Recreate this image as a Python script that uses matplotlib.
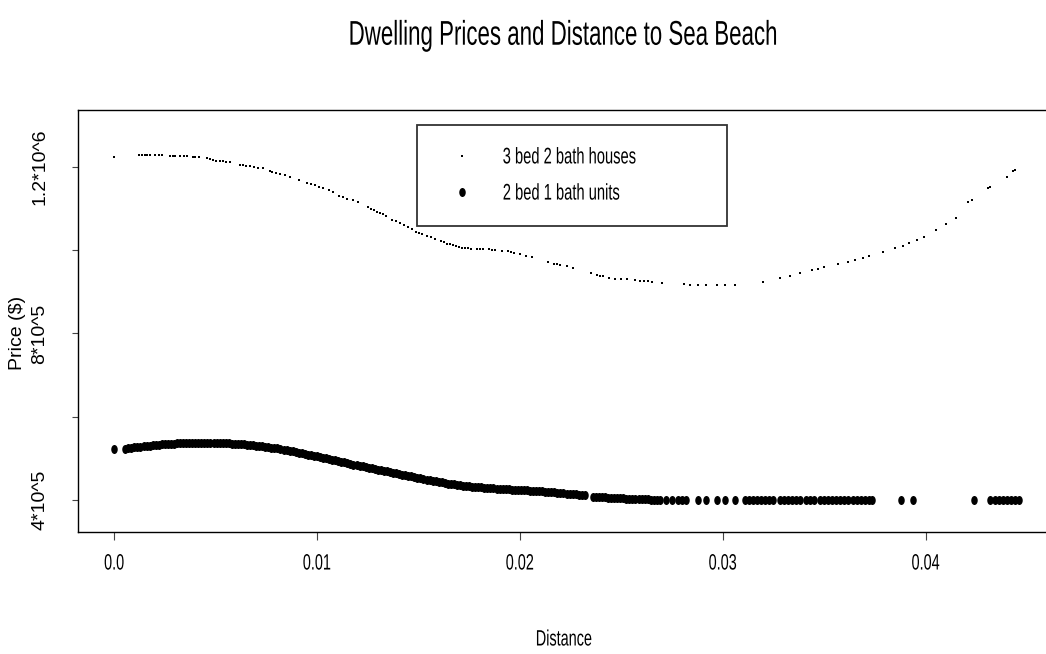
import numpy as np
import matplotlib
matplotlib.use("Agg")
import matplotlib.pyplot as plt
from matplotlib.patheffects import AbstractPathEffect
from matplotlib.transforms import Affine2D
from matplotlib.path import Path
from matplotlib.lines import Line2D
from matplotlib.patches import Rectangle

# ---------------- data ----------------
title = "Dwelling Prices and Distance to Sea Beach"
x_label = "Distance"
y_label = "Price ($)"
legend_labels = ["3 bed 2 bath houses", "2 bed 1 bath units"]
x_ticks = [0.0, 0.01, 0.02, 0.03, 0.04]
x_tick_labels = ["0.0", "0.01", "0.02", "0.03", "0.04"]
y_ticks = [4e5, 6e5, 8e5, 1e6, 1.2e6]
y_tick_labels = ["4*10^5", "", "8*10^5", "", "1.2*10^6"]

house_dist = [0.0, 0.00123, 0.00137, 0.0015, 0.00164, 0.00177, 0.0020, 0.0022, 0.00236,
              0.00276, 0.0029, 0.0030, 0.00325, 0.00345, 0.00359, 0.00389, 0.0040, 0.0042,
              0.00458, 0.00472, 0.00487, 0.0050, 0.0052, 0.00535, 0.0055, 0.00571, 0.0062,
              0.00635, 0.0065, 0.0067, 0.0069, 0.0071, 0.00733, 0.00768, 0.0078, 0.0080,
              0.0082, 0.0084, 0.00866, 0.0091, 0.0095, 0.0097, 0.0099, 0.0101, 0.0103,
              0.0106, 0.0108, 0.0111, 0.0113, 0.0115, 0.0118, 0.0120, 0.0125, 0.01265,
              0.0128, 0.01295, 0.0131, 0.01325, 0.0134, 0.0137, 0.0139, 0.0141, 0.0143,
              0.0145, 0.0147, 0.0149, 0.01505, 0.0152, 0.0154, 0.0156, 0.0158, 0.0161,
              0.01625, 0.0164, 0.01655, 0.0167, 0.01685, 0.0170, 0.01715, 0.0173, 0.01745,
              0.0176, 0.0179, 0.01805, 0.0182, 0.0185, 0.01865, 0.0188, 0.0191, 0.0194,
              0.01955, 0.0197, 0.0200, 0.0203, 0.0206, 0.0214, 0.0217, 0.02185, 0.0220,
              0.0223, 0.0226, 0.0235, 0.0238, 0.02395, 0.0241, 0.0244, 0.0247, 0.0250,
              0.0253, 0.0257, 0.0259, 0.0261, 0.0263, 0.0265, 0.0270, 0.0281, 0.0284,
              0.0288, 0.0292, 0.0297, 0.0301, 0.0306, 0.0320, 0.0328, 0.0333, 0.0338,
              0.0344, 0.0347, 0.0350, 0.0357, 0.0362, 0.0365, 0.0369, 0.0372, 0.0379,
              0.0385, 0.0389, 0.0392, 0.0396, 0.0399, 0.0405, 0.0410, 0.0415, 0.0421,
              0.0423, 0.0431, 0.0432, 0.0440, 0.0443, 0.0444]
house_price_k = [1224, 1228.8, 1228.8, 1228.8, 1228.8, 1228.8, 1228.5, 1228.5, 1228.5,
                 1227.2, 1227.2, 1227, 1227, 1226.5, 1226.5, 1224, 1223.5, 1223,
                 1222, 1220, 1216, 1215, 1214, 1213.5, 1213, 1212, 1206,
                 1205, 1203, 1201.5, 1200, 1198.5, 1197, 1190, 1188, 1186,
                 1184, 1182, 1177, 1168, 1161, 1158, 1156, 1153, 1150,
                 1144, 1140, 1130, 1127, 1124, 1120, 1116, 1104, 1100,
                 1097, 1093, 1090, 1086, 1082, 1073, 1070, 1066, 1061,
                 1056, 1050, 1045, 1041, 1038, 1034, 1031, 1027, 1022,
                 1019, 1016, 1014, 1012, 1010, 1008, 1006.5, 1005, 1004.5,
                 1004, 1003, 1003, 1003, 1002, 1001.5, 1001, 999, 997,
                 995.5, 994, 990, 986, 983, 972, 968, 966.5, 965,
                 962, 958, 945, 941, 939, 937, 934, 932, 931,
                 930, 928, 927, 926, 925, 924, 922, 918, 917,
                 916, 916, 915.5, 915.5, 916, 924, 933, 938, 945,
                 952, 956, 960, 967, 972, 976, 981, 986, 996,
                 1005, 1011, 1017, 1024, 1032, 1049, 1063, 1077, 1116,
                 1121, 1150, 1152, 1176, 1190, 1193]

unit_dist = [0.0, 0.00055, 0.0007, 0.00085, 0.0010, 0.00115, 0.0013, 0.00145, 0.0016, 0.00175,
             0.0019, 0.00205, 0.0022, 0.00235, 0.0025, 0.00265, 0.0028, 0.00295, 0.0031, 0.00325,
             0.0034, 0.00355, 0.0037, 0.00385, 0.0040, 0.00415, 0.0043, 0.00445, 0.0046, 0.00475,
             0.0049, 0.00505, 0.0052, 0.00535, 0.0055, 0.00565, 0.0058, 0.00595, 0.0061, 0.00625,
             0.0064, 0.00655, 0.0067, 0.00685, 0.0070, 0.00715, 0.0073, 0.00745, 0.0076, 0.00775,
             0.0079, 0.00805, 0.0082, 0.00835, 0.0085, 0.00865, 0.0088, 0.00895, 0.0091, 0.00925,
             0.0094, 0.00955, 0.0097, 0.00985, 0.0100, 0.01015, 0.0103, 0.01045, 0.0106, 0.01075,
             0.0109, 0.01105, 0.0112, 0.01135, 0.0115, 0.01165, 0.0118, 0.01195, 0.0121, 0.01225,
             0.0124, 0.01255, 0.0127, 0.01285, 0.0130, 0.01315, 0.0133, 0.01345, 0.0136, 0.01375,
             0.0139, 0.01405, 0.0142, 0.01435, 0.0145, 0.01465, 0.0148, 0.01495, 0.0151, 0.01525,
             0.0154, 0.01555, 0.0157, 0.01585, 0.0160, 0.01615, 0.0163, 0.01645, 0.0166, 0.01675,
             0.0169, 0.01705, 0.0172, 0.01735, 0.0175, 0.01765, 0.0178, 0.01795, 0.0181, 0.01825,
             0.0184, 0.01855, 0.0187, 0.01885, 0.0190, 0.01915, 0.0193, 0.01945, 0.0196, 0.01975,
             0.0199, 0.02005, 0.0202, 0.02035, 0.0205, 0.02065, 0.0208, 0.02095, 0.0211, 0.02125,
             0.0214, 0.02155, 0.0217, 0.02185, 0.0220, 0.02215, 0.0223, 0.02245, 0.0226, 0.02275,
             0.0229, 0.02305, 0.0232, 0.0236, 0.02375, 0.0239, 0.02405, 0.0242, 0.02435, 0.0245,
             0.02465, 0.0248, 0.02495, 0.0251, 0.02525, 0.0254, 0.02555, 0.0257, 0.02585, 0.0260,
             0.02615, 0.0263, 0.02645, 0.0266, 0.02675, 0.0269, 0.0272, 0.0275, 0.0278, 0.0280,
             0.0282, 0.0288, 0.0292, 0.0297, 0.0301, 0.0306, 0.0311, 0.0313, 0.0315, 0.0317,
             0.0319, 0.0321, 0.0323, 0.0325, 0.0328, 0.0330, 0.0332, 0.0334, 0.0336, 0.0338,
             0.0341, 0.0343, 0.0345, 0.0348, 0.0350, 0.0352, 0.0354, 0.0356, 0.0358, 0.0360,
             0.0362, 0.0364, 0.0366, 0.0368, 0.0370, 0.0372, 0.03735, 0.0388, 0.0394, 0.0424,
             0.0432, 0.0434, 0.0436, 0.0438, 0.0440, 0.0442, 0.0444, 0.0446]
unit_price_k = [522.5, 523, 524, 525, 526.5, 527, 528, 529, 529.5, 530.5,
                531, 532, 532.5, 533.5, 534, 534.5, 535, 535.5, 536, 536,
                536.5, 537, 537, 537.5, 537.5, 538, 537.5, 538, 537.5, 537.5,
                537.5, 537, 537, 536.5, 536.5, 536, 535.5, 535, 534.5, 534,
                533.5, 533, 532, 531.5, 530.5, 530, 529, 528, 527, 526,
                525, 524, 522.5, 521, 519.5, 518, 516.5, 515, 513.5, 512,
                510.5, 509, 507.5, 506.5, 505, 503.5, 502, 500.5, 499, 497,
                495.5, 493.5, 492, 490, 488.5, 487, 485, 483.5, 482, 480.5,
                479, 477.5, 476, 474.5, 473, 471.5, 470, 468.5, 467, 465.5,
                464, 462.5, 461, 459.5, 458, 456.5, 455, 453.5, 452, 450.5,
                449, 447.5, 446, 444.5, 443, 442, 441, 439.5, 438.5, 437.5,
                436.5, 435.5, 434.5, 433.5, 433, 432, 431.5, 431, 430, 429.5,
                429, 428.5, 428, 427.5, 427, 426.5, 426, 425.5, 425, 424.5,
                424, 424, 423.5, 423, 422.5, 422, 421.5, 421, 420.5, 420,
                419, 418.5, 418, 417.5, 417, 416, 415.5, 415, 414.5, 414,
                413, 412.5, 412, 408, 407.5, 407, 406.5, 406, 405.5, 405,
                404.5, 404, 404, 403.5, 403, 403, 402.5, 402.5, 402, 402,
                401.5, 401.5, 401, 401, 401, 400.5, 400.5, 400, 400, 400,
                400, 400, 400, 400, 400, 400, 400, 400, 400, 400,
                400, 400, 400, 400, 400, 400, 400, 400, 400, 400,
                400, 400, 400, 400, 400, 400, 400, 400, 400, 400,
                400, 400, 400, 400, 400, 400, 400, 400, 400, 400,
                400, 400, 400, 400, 400, 400, 400, 400]

# ---------------- styling helpers ----------------
SQ = 0.65  # horizontal squash of the reference picture


class Squash(AbstractPathEffect):
    """Scale text glyph paths (in glyph frame) around an anchor."""

    def __init__(self, sx=1.0, sy=1.0, anchor="center"):
        super().__init__()
        self.sx, self.sy, self.anchor = sx, sy, anchor

    def draw_path(self, renderer, gc, tpath, affine, rgbFace=None):
        ext = tpath.get_extents()
        cx = ext.x0 if self.anchor == "left" else 0.5 * (ext.x0 + ext.x1)
        cy = 0.5 * (ext.y0 + ext.y1)
        t = Affine2D().translate(-cx, -cy).scale(self.sx, self.sy).translate(cx, cy) + affine
        renderer.draw_path(gc, tpath, t, rgbFace)


plt.rcParams["font.family"] = ["Liberation Sans", "DejaVu Sans"]

W, H = 1046, 654
fig = plt.figure(figsize=(W / 100, H / 100), dpi=100)
ax = fig.add_axes([78 / W, 1 - 532 / H, (1055 - 78) / W, (532 - 110) / H])

ell = Path.unit_circle().transformed(Affine2D().scale(0.72, 1.0))

hx = np.array(house_dist)
hy = np.array(house_price_k) * 1000
ux = np.array(unit_dist)
uy = np.array(unit_price_k) * 1000

ax.plot(hx, hy, linestyle="none", marker="s", markersize=1.9, color="black",
        markeredgewidth=0)
ax.plot(ux, uy, linestyle="none", marker=ell, markersize=6.5, color="black",
        markeredgewidth=0)

ax.set_xlim(-0.00178, 0.04638)
ax.set_ylim(323000, 1337000)

for s in ax.spines.values():
    s.set_linewidth(1.0)
    s.set_color("black")

ax.set_xticks(x_ticks)
ax.set_xticklabels(x_tick_labels)
ax.set_yticks(y_ticks)
ax.set_yticklabels(y_tick_labels, rotation=90, va="center", ha="right")
ax.tick_params(axis="x", direction="out", length=6, width=0.8, color="#444444",
               labelsize=16, pad=9.5)
ax.tick_params(axis="y", direction="out", length=4.5, width=0.8, color="#444444",
               labelsize=14, pad=17)

for t in ax.get_xticklabels():
    t.set_path_effects([Squash(SQ, 1.0)])

ax.set_xlabel(x_label, fontsize=16)
ax.xaxis.set_label_coords((564 - 78) / 977, (532 - 640) / 422)
ax.xaxis.label.set_va("center")
ax.xaxis.label.set_path_effects([Squash(SQ, 1.0)])

ax.set_ylabel(y_label, fontsize=14)
ax.yaxis.set_label_coords((17 - 78) / 977, (532 - 333) / 422)
ax.yaxis.label.set_va("center")

ax.set_title(title, fontsize=24.7, pad=47, x=(562 - 78) / 977)
ax.title.set_path_effects([Squash(SQ, 1.0)])

# legend frame and legend
ax.add_patch(Rectangle((417 / W, 1 - 226 / H), 310 / W, 101 / H,
                       transform=fig.transFigure, facecolor="white",
                       edgecolor="#333333", linewidth=1.3, zorder=5, clip_on=False))
handles = [Line2D([], [], linestyle="none", marker="s", markersize=1.9, color="black",
                  markeredgewidth=0),
           Line2D([], [], linestyle="none", marker=ell, markersize=6.5, color="black",
                  markeredgewidth=0)]
leg = ax.legend(handles, legend_labels, loc="center left",
                bbox_to_anchor=(451 / W, 1 - 175 / H), bbox_transform=fig.transFigure,
                frameon=False, fontsize=16.3, borderpad=0, borderaxespad=0,
                handlelength=1.0, handletextpad=1.27, labelspacing=0.58)
leg.set_zorder(6)
for t in leg.get_texts():
    t.set_path_effects([Squash(SQ, 1.0, anchor="left")])

fig.savefig("out.png", dpi=100, facecolor="white")
